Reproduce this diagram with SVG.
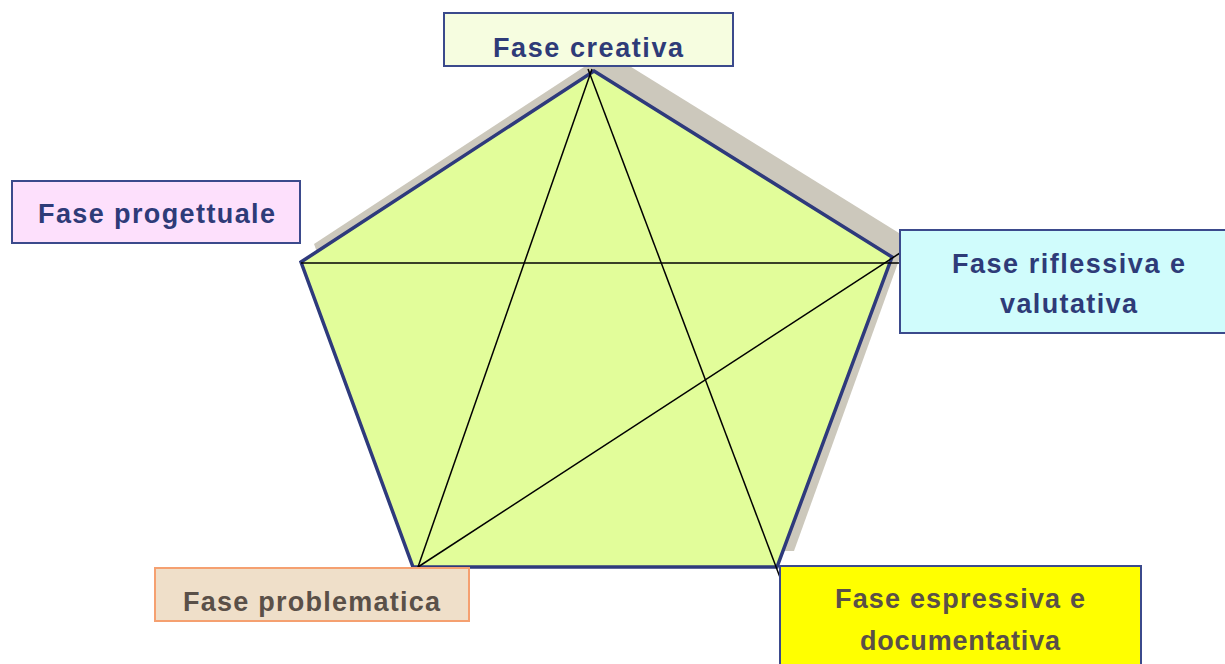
<svg xmlns="http://www.w3.org/2000/svg" width="1225" height="664" viewBox="0 0 1225 664">
<style>
.box{stroke-width:2}
.navy{stroke:#3b4a8c}
.t{font-family:"Liberation Sans",Arial,sans-serif;font-weight:bold;font-size:27px}
.tb{fill:#2e3b78}
.tg{fill:#5a5048}
.ln{stroke:#000;stroke-width:1.5;fill:none}
</style>
<rect width="1225" height="664" fill="#fff"/>
<g id="pentagon">
<polygon points="607,52 907,238 794,551 427,551 314,244" fill="#ccc8bc"/>
<polygon points="594,71 892,257 777,567 413,567 301,262" fill="#e2fd9a" stroke="#2e3a7c" stroke-width="3.5" stroke-linejoin="miter"/>
</g>
<g id="connectors">
<line class="ln" x1="592" y1="69" x2="418" y2="567"/>
<line class="ln" x1="588" y1="69" x2="781" y2="580"/>
<line class="ln" x1="301" y1="263" x2="900" y2="263"/>
<line class="ln" x1="418" y1="567" x2="900" y2="253"/>
</g>
<g id="fase-creativa">
<rect class="box navy" x="444" y="13" width="289" height="53" fill="#f6fde0"/>
<text class="t tb" x="493" y="57" textLength="190">Fase creativa</text>
</g>
<g id="fase-progettuale">
<rect class="box navy" x="12" y="181" width="288" height="62" fill="#fde0fc"/>
<text class="t tb" x="38" y="223" textLength="237">Fase progettuale</text>
</g>
<g id="fase-riflessiva">
<rect class="box navy" x="900" y="230" width="330" height="103" fill="#d0fcfc"/>
<text class="t tb" x="952" y="273" textLength="233">Fase riflessiva e</text>
<text class="t tb" x="1000" y="313" textLength="137">valutativa</text>
</g>
<g id="fase-problematica">
<rect class="box" x="155" y="568" width="314" height="53" fill="#efdfc9" stroke="#f5a070"/>
<text class="t tg" x="183" y="611" textLength="257">Fase problematica</text>
</g>
<g id="fase-espressiva">
<rect class="box navy" x="780" y="566" width="361" height="110" fill="#ffff00"/>
<text class="t tg" x="835" y="608" textLength="250">Fase espressiva e</text>
<text class="t tg" x="860" y="650" textLength="200">documentativa</text>
</g>
</svg>
